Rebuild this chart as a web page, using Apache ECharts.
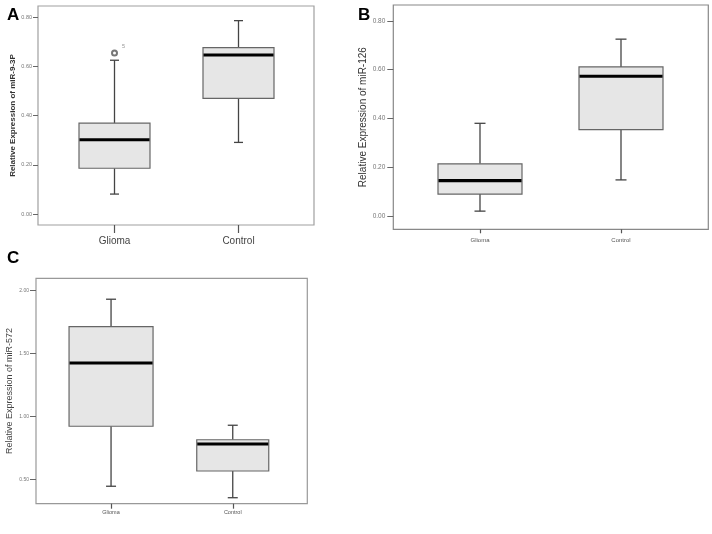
<!DOCTYPE html>
<html>
<head>
<meta charset="utf-8">
<script src="https://cdn.jsdelivr.net/npm/echarts@6/dist/echarts.min.js"></script>
<style>html,body{margin:0;padding:0;background:#fff}#c{width:712px;height:534px}</style>
</head>
<body>
<div id="c"></div>
<script>
// ---- data ----
const categories = ['Glioma', 'Control'];
// [min, Q1, median, Q3, max]
const statsA = [[0.081, 0.186, 0.302, 0.369, 0.625], [0.291, 0.470, 0.646, 0.676, 0.786]];
const statsB = [[0.020, 0.090, 0.145, 0.214, 0.380], [0.148, 0.354, 0.573, 0.611, 0.725]];
const statsC = [[0.448, 0.924, 1.426, 1.714, 1.932], [0.357, 0.569, 0.783, 0.817, 0.932]];
const outliersA = [['Glioma', 0.654, '5']];
const ticksA = [0, 0.2, 0.4, 0.6, 0.8];
const ticksB = [0, 0.2, 0.4, 0.6, 0.8];
const ticksC = [0.5, 1.0, 1.5, 2.0];
const titleA = 'Relative Expression of miR-9-3P';
const titleB = 'Relative Expression of miR-126';
const titleC = 'Relative Expression of miR-572';

// ---- rendering ----
const chart = echarts.init(document.getElementById('c'));

function boxRender(boxW, capW, medW) {
  return function (params, api) {
    const i = api.value(0);
    const lo = api.coord([i, api.value(1)]);
    const q1 = api.coord([i, api.value(2)]);
    const md = api.coord([i, api.value(3)]);
    const q3 = api.coord([i, api.value(4)]);
    const hi = api.coord([i, api.value(5)]);
    const x = lo[0];
    const w = boxW[params.dataIndex];
    const ws = {stroke: '#444', lineWidth: 1.3};
    return {
      type: 'group',
      children: [
        {type: 'line', shape: {x1: x, y1: hi[1], x2: x, y2: q3[1]}, style: ws},
        {type: 'line', shape: {x1: x, y1: q1[1], x2: x, y2: lo[1]}, style: ws},
        {type: 'line', shape: {x1: x - capW / 2, y1: hi[1], x2: x + capW / 2, y2: hi[1]}, style: ws},
        {type: 'line', shape: {x1: x - capW / 2, y1: lo[1], x2: x + capW / 2, y2: lo[1]}, style: ws},
        {type: 'rect', shape: {x: x - w / 2, y: q3[1], width: w, height: q1[1] - q3[1]},
          style: {fill: '#e6e6e6', stroke: '#666', lineWidth: 1.2}},
        {type: 'line', shape: {x1: x - w / 2 + 0.5, y1: md[1], x2: x + w / 2 - 0.5, y2: md[1]},
          style: {stroke: '#000', lineWidth: medW}}
      ]
    };
  };
}

function toData(stats) {
  return categories.map((c, i) => [c].concat(stats[i]));
}

const panels = [
  {frame: {left: 38, top: 6, width: 276, height: 219}, grid: {left: 52.5, top: 6, width: 248, height: 219},
   offset: 14.5, min: -0.0447, max: 0.8455, ticks: ticksA, title: titleA,
   nameStyle: {fontSize: 8, fontWeight: 'bold', color: '#333', fontFamily: 'Liberation Sans'}, nameGap: 21,
   yLabelSize: 5.5, yLabelMargin: 6, yTickLen: 5,
   xLabelSize: 10, xLabelMargin: 11, xTickLen: 8, xLabelColor: '#444',
   stats: statsA, boxW: [71, 71], capW: 9, medW: 3, frameColor: '#a0a0a0'},
  {frame: {left: 393.3, top: 5, width: 315, height: 224.3}, grid: {left: 409.5, top: 5, width: 282, height: 224.3},
   offset: 16.2, min: -0.0545, max: 0.865, ticks: ticksB, title: titleB,
   nameStyle: {fontSize: 10, color: '#333', fontFamily: 'Liberation Sans'}, nameGap: 23,
   yLabelSize: 6.5, yLabelMargin: 8, yTickLen: 6,
   xLabelSize: 6, xLabelMargin: 8, xTickLen: 4, xLabelColor: '#555',
   stats: statsB, boxW: [84, 84], capW: 11, medW: 3.2, frameColor: '#888'},
  {frame: {left: 36, top: 278.3, width: 271.3, height: 225.4}, grid: {left: 50.2, top: 278.3, width: 243.4, height: 225.4},
   offset: 14.2, min: 0.3095, max: 2.098, ticks: ticksC, title: titleC,
   nameStyle: {fontSize: 9, color: '#444', fontFamily: 'Liberation Sans'}, nameGap: 21.5,
   yLabelSize: 5, yLabelMargin: 7, yTickLen: 6,
   xLabelSize: 5.5, xLabelMargin: 6, xTickLen: 5, xLabelColor: '#555',
   stats: statsC, boxW: [84, 72], capW: 10, medW: 3, frameColor: '#999'}
];

const grid = [], xAxis = [], yAxis = [], series = [];
panels.forEach((p, k) => {
  grid.push(Object.assign({show: false, containLabel: false}, p.grid));
  xAxis.push({
    type: 'category', gridIndex: k, data: categories, boundaryGap: true,
    axisLine: {show: false, onZero: false},
    axisTick: {show: true, alignWithLabel: true, length: p.xTickLen, lineStyle: {color: '#555', width: 1.2}},
    axisLabel: {fontSize: p.xLabelSize, margin: p.xLabelMargin, color: p.xLabelColor, fontFamily: 'Liberation Sans'},
    splitLine: {show: false}
  });
  yAxis.push({
    type: 'value', gridIndex: k, min: p.min, max: p.max, offset: p.offset,
    name: p.title, nameLocation: 'middle', nameGap: p.nameGap, nameRotate: 90,
    nameTextStyle: p.nameStyle,
    axisLine: {show: false, onZero: false},
    axisTick: {show: true, length: p.yTickLen, customValues: p.ticks, lineStyle: {color: '#666', width: 1}},
    axisLabel: {fontSize: p.yLabelSize, margin: p.yLabelMargin, color: '#777', customValues: p.ticks,
      fontFamily: 'Liberation Sans', formatter: v => v.toFixed(2)},
    splitLine: {show: false}
  });
  series.push({
    type: 'custom', xAxisIndex: k, yAxisIndex: k,
    renderItem: boxRender(p.boxW, p.capW, p.medW),
    encode: {x: 0, y: [1, 2, 3, 4, 5]},
    data: toData(p.stats), silent: true
  });
});
// frame grids
panels.forEach((p, k) => {
  grid.push(Object.assign({show: true, borderColor: p.frameColor, borderWidth: 1.2, backgroundColor: 'transparent'}, p.frame));
  xAxis.push({type: 'value', gridIndex: 3 + k, show: false, min: 0, max: 1});
  yAxis.push({type: 'value', gridIndex: 3 + k, show: false, min: 0, max: 1});
});
series.push({
  type: 'scatter', xAxisIndex: 0, yAxisIndex: 0, symbol: 'emptyCircle', symbolSize: 5,
  itemStyle: {color: '#555', borderColor: '#555', borderWidth: 1},
  label: {show: true, position: 'right', formatter: d => d.value[2], fontSize: 5.5, color: '#777', offset: [-1, -7]},
  data: outliersA, silent: true, z: 5
});

chart.setOption({
  animation: false,
  backgroundColor: '#fff',
  grid, xAxis, yAxis, series,
  graphic: [
    {type: 'text', left: 7, top: 7, style: {text: 'A', font: 'bold 17px "Liberation Sans"', fill: '#000'}},
    {type: 'text', left: 358, top: 7, style: {text: 'B', font: 'bold 17px "Liberation Sans"', fill: '#000'}},
    {type: 'text', left: 7, top: 250, style: {text: 'C', font: 'bold 17px "Liberation Sans"', fill: '#000'}}
  ]
});
</script>
</body>
</html>
